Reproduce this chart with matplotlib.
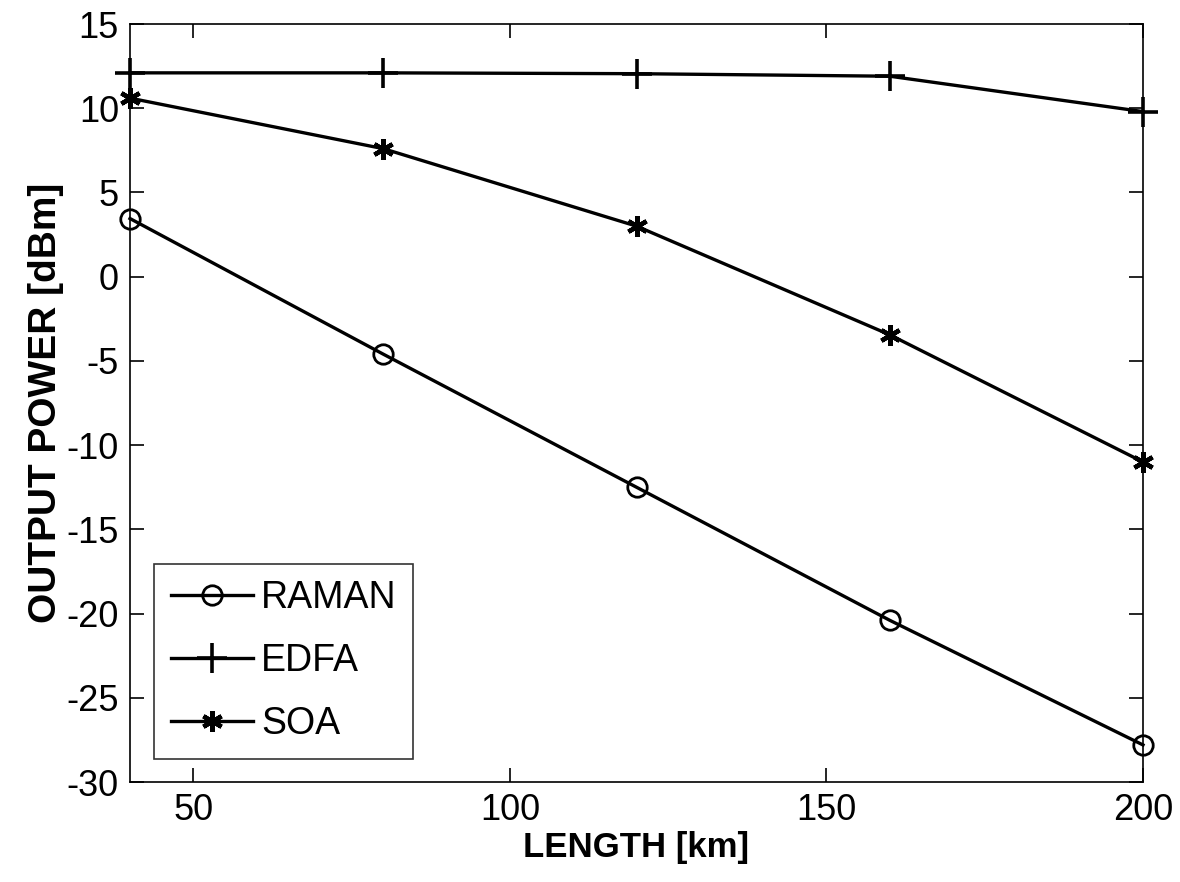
import matplotlib
matplotlib.use("Agg")
import matplotlib.pyplot as plt

plt.rcParams["font.family"] = ["Liberation Sans", "DejaVu Sans"]
plt.rcParams["axes.unicode_minus"] = False

length_km = [40, 80, 120, 160, 200]
raman = [3.45, -4.6, -12.5, -20.4, -27.8]
edfa = [12.1, 12.1, 12.05, 11.9, 9.8]
soa = [10.6, 7.6, 3.0, -3.45, -11.0]

fig = plt.figure(figsize=(11.8, 8.82), dpi=100)
ax = fig.add_axes([130 / 1180, 1 - 782 / 882, (1143 - 130) / 1180, (782 - 24) / 882])

style = dict(color="black", linewidth=2.4, markerfacecolor="none",
             markeredgecolor="black", clip_on=False)
ax.plot(length_km, raman, marker="o", markersize=14, markeredgewidth=2.0,
        label="RAMAN", **style)
ax.plot(length_km, edfa, marker="+", markersize=22, markeredgewidth=2.6,
        label="EDFA", **style)
ax.plot(length_km, soa, marker=(6, 2, 0), markersize=15, markeredgewidth=3.2,
        label="SOA", **style)

ax.set_xlim(40, 200)
ax.set_ylim(-30, 15)
ax.set_xticks([50, 100, 150, 200])
ax.set_yticks(range(-30, 16, 5))
ax.tick_params(direction="in", length=10, width=1.2, top=True, right=True,
               labelsize=26, pad=8)
for sp in ax.spines.values():
    sp.set_linewidth(1.2)

ax.set_xlabel("LENGTH [km]", fontsize=25, fontweight="bold", labelpad=2)
ax.set_ylabel("OUTPUT POWER [dBm]", fontsize=28, fontweight="bold", labelpad=2)

leg = ax.legend(loc="lower left", fontsize=27, frameon=True, fancybox=False,
                edgecolor="black", handlelength=2.2, borderpad=0.45,
                labelspacing=0.72, handletextpad=0.2, borderaxespad=0,
                bbox_to_anchor=(0.0237, 0.030))
leg.get_frame().set_linewidth(1.2)

fig.savefig("out.png", dpi=100)
